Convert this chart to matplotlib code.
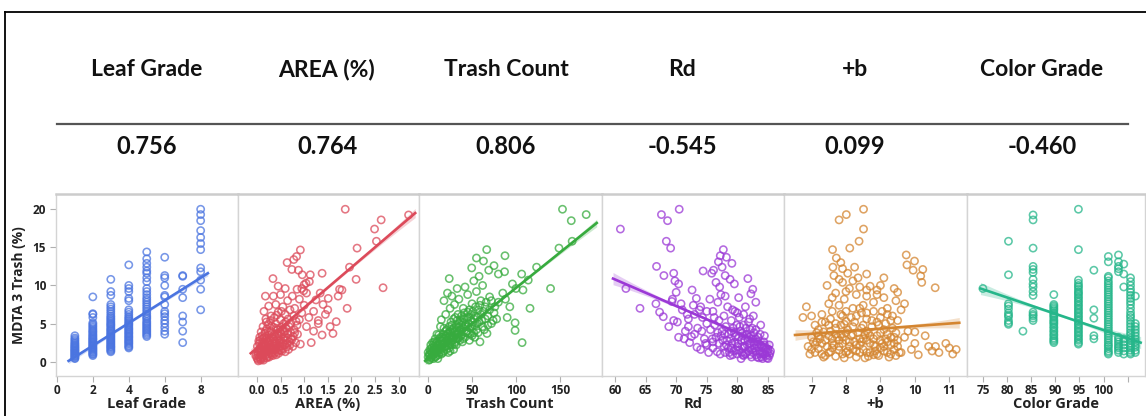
import numpy as np
import matplotlib.pyplot as plt
from matplotlib.lines import Line2D

plt.rcParams['font.family'] = ['Lato', 'DejaVu Sans']
plt.rcParams['font.weight'] = 'bold'

W, H = 1146, 416

# ---------------------------------------------------------------- header table
header_names = ['Leaf Grade', 'AREA (%)', 'Trash Count', 'Rd', '+b', 'Color Grade']
header_corr = ['0.756', '0.764', '0.806', '-0.545', '0.099', '-0.460']

# ---------------------------------------------------------------- panel data
# Leaf Grade (discrete grades 1..8)
leaf_y = {
    1: [0.4, 0.5, 0.65, 0.75, 0.85, 1.0, 1.1, 1.2, 1.35, 1.45, 1.55, 1.7, 1.8, 1.95, 2.05, 2.2,
        2.35, 2.5, 2.7, 2.9, 3.1, 3.4],
    2: [0.8, 0.95, 1.05, 1.2, 1.3, 1.45, 1.55, 1.7, 1.8, 1.95, 2.1, 2.2, 2.35, 2.5, 2.6, 2.75,
        2.9, 3.0, 3.15, 3.3, 3.45, 3.6, 3.8, 3.95, 4.1, 4.3, 4.5, 4.7, 4.9, 5.1, 5.8, 6.2, 6.3,
        8.5],
    3: [1.3, 1.45, 1.6, 1.75, 1.9, 2.0, 2.15, 2.3, 2.45, 2.6, 2.75, 2.9, 3.05, 3.2, 3.35, 3.5,
        3.65, 3.8, 4.0, 4.15, 4.3, 4.5, 4.7, 4.85, 5.0, 5.2, 5.4, 5.6, 5.8, 6.0, 6.3, 6.6, 6.9,
        7.2, 7.5, 8.7, 9.2, 10.8],
    4: [1.8, 1.95, 2.1, 2.3, 2.45, 2.6, 2.75, 2.9, 3.1, 3.25, 3.4, 3.6, 3.75, 3.9, 4.1, 4.25,
        4.4, 4.6, 4.8, 4.95, 5.1, 5.3, 5.5, 5.7, 5.9, 6.2, 6.5, 6.8, 8.0, 8.3, 9.2, 9.6, 10.0,
        12.7],
    5: [3.3, 3.5, 3.7, 3.9, 4.1, 4.3, 4.5, 4.7, 4.9, 5.1, 5.3, 5.6, 5.8, 6.0, 6.3, 6.6, 6.9,
        7.2, 7.5, 7.8, 8.1, 8.4, 8.8, 9.2, 9.6, 10.5, 11.0, 11.6, 11.9, 12.4, 12.9, 13.5, 14.4],
    6: [3.6, 4.0, 4.5, 5.0, 5.4, 5.9, 6.3, 6.6, 7.5, 8.5, 8.7, 10.0, 11.0, 11.3, 13.7],
    7: [2.5, 4.0, 5.2, 6.0, 8.4, 9.5, 11.2, 11.3],
    8: [6.8, 9.5, 10.7, 11.8, 12.3, 14.7, 15.5, 16.3, 17.2, 18.5, 19.3, 20.0],
}
leaf_x = [g for g, ys in leaf_y.items() for _ in ys]
leaf_t = [v for ys in leaf_y.values() for v in ys]

area_pts = [
    (0.02, 0.3), (0.05, 0.6), (0.08, 0.9), (0.03, 1.2), (0.1, 0.5), (0.12, 1.0), (0.15, 1.4),
    (0.06, 1.7), (0.18, 0.8), (0.2, 1.3), (0.22, 1.8), (0.1, 2.1), (0.25, 1.0), (0.28, 1.6),
    (0.3, 2.2), (0.15, 2.5), (0.32, 1.2), (0.35, 2.0), (0.38, 2.7), (0.2, 3.0), (0.4, 1.6),
    (0.42, 2.4), (0.45, 3.1), (0.25, 3.5), (0.48, 2.0), (0.5, 2.8), (0.52, 3.6), (0.3, 4.0),
    (0.55, 2.4), (0.58, 3.2), (0.35, 4.5), (0.6, 4.0), (0.4, 5.0), (0.12, 3.0), (0.05, 2.4),
    (0.08, 0.2), (0.27, 2.8), (0.33, 3.3), (0.44, 4.2), (0.62, 2.8), (0.65, 3.6), (0.18, 4.0),
    (0.02, 0.9), (0.14, 1.9), (0.24, 2.3), (0.36, 1.5), (0.46, 1.1), (0.55, 1.7), (0.7, 2.2),
    (0.68, 4.6), (0.0, 0.5), (0.04, 1.5), (0.07, 2.8), (0.09, 1.1), (0.11, 3.4), (0.13, 0.4),
    (0.16, 2.2), (0.17, 3.7), (0.19, 1.6), (0.21, 4.3), (0.23, 0.7), (0.26, 2.0), (0.27, 3.9),
    (0.29, 1.1), (0.31, 4.7), (0.33, 2.5), (0.34, 0.8), (0.37, 3.6), (0.39, 2.1), (0.41, 4.4),
    (0.43, 1.3), (0.47, 3.4), (0.49, 2.5), (0.51, 4.5), (0.53, 1.4), (0.57, 3.9), (0.59, 2.2),
    (0.61, 5.2), (0.63, 1.9), (0.66, 3.1), (0.69, 2.6), (0.71, 3.9), (0.74, 2.9), (0.77, 3.3),
    (0.82, 2.5), (0.86, 3.6), (0.09, 3.9), (0.13, 4.6), (0.19, 5.6), (0.24, 4.9), (0.29, 5.4),
    (0.37, 5.8), (0.42, 6.1), (0.52, 6.6), (0.57, 5.0), (0.66, 5.6), (0.78, 6.0), (0.83, 5.3),
    (-0.02, 0.8), (0.01, 2.0), (0.06, 3.2),
    (0.03, 0.1), (0.07, 0.4), (0.11, 0.7), (0.14, 0.2), (0.17, 1.1), (0.21, 0.5), (0.23, 1.5),
    (0.26, 0.6), (0.29, 1.9), (0.31, 0.9), (0.34, 1.6), (0.37, 1.1), (0.39, 2.4), (0.41, 0.9),
    (0.44, 1.8), (0.47, 2.7), (0.5, 1.5), (0.53, 2.1), (0.56, 3.0), (0.6, 1.3), (0.64, 2.4),
    (0.67, 1.6), (0.72, 3.0), (0.76, 2.0), (0.79, 4.2), (0.04, 2.7), (0.08, 1.4), (0.12, 2.6),
    (0.16, 3.2), (0.22, 2.6), (0.28, 3.1), (0.36, 3.0), (0.43, 3.7), (0.49, 3.9), (0.54, 4.2),
    (0.62, 4.4), (0.1, 1.6), (0.19, 2.0), (0.32, 1.8), (0.47, 1.5),
    (0.72, 5.0), (0.8, 3.8), (0.85, 4.8), (0.9, 5.5), (0.5, 5.5), (0.6, 6.2),
    (0.7, 6.8), (0.45, 6.5), (0.3, 6.0), (0.2, 5.2), (0.15, 6.6), (0.25, 7.3), (0.4, 7.5),
    (0.55, 7.2), (0.65, 8.0), (0.8, 7.0), (0.95, 6.4), (1.0, 7.4), (1.1, 5.8), (1.2, 6.6),
    (1.3, 5.4), (1.05, 4.6), (1.2, 4.0), (0.75, 8.6), (0.9, 8.2), (0.35, 8.6), (0.18, 8.6),
    (0.5, 8.8), (0.85, 9.5), (1.05, 9.0), (1.25, 8.1), (1.4, 7.5), (1.45, 6.2), (1.34, 9.0),
    (1.51, 8.3), (0.6, 9.6), (0.45, 9.9), (0.34, 10.9), (0.64, 13.0), (0.78, 13.4),
    (0.84, 13.8), (0.92, 14.66), (0.74, 12.1), (0.88, 12.0), (0.96, 11.4), (1.0, 10.1),
    (1.04, 10.3), (1.13, 11.4), (1.38, 11.6), (0.95, 9.6), (0.99, 9.3), (1.11, 10.5),
    (1.68, 5.25), (1.61, 3.7), (1.38, 3.5), (1.15, 2.5), (0.92, 2.3), (1.55, 4.6), (1.75, 9.5),
    (1.8, 9.4), (1.72, 8.6), (1.91, 7.0), (2.10, 10.8), (1.96, 12.4), (2.12, 14.9),
    (2.53, 15.8), (2.49, 17.4), (2.63, 18.6), (1.87, 20.0), (3.21, 19.25), (2.67, 9.7),
    (1.3, 5.0), (1.5, 6.8),
]

trash_pts = [
    (1, 0.2), (3, 0.5), (5, 0.8), (2, 1.0), (8, 0.6), (10, 1.2), (6, 1.5), (12, 0.9), (14, 1.6),
    (4, 1.8), (16, 2.2), (18, 1.4), (9, 2.4), (20, 2.0), (22, 2.8), (13, 3.0), (24, 1.8),
    (26, 2.6), (28, 3.4), (17, 3.6), (30, 2.3), (32, 3.0), (34, 3.8), (21, 4.2), (36, 2.8),
    (38, 3.5), (40, 4.4), (27, 4.8), (42, 3.2), (44, 4.0), (46, 5.0), (33, 5.4), (48, 3.6),
    (50, 4.6), (52, 5.6), (38, 6.0), (55, 4.2), (58, 5.2), (60, 6.2), (45, 6.5), (7, 2.0),
    (11, 0.4), (15, 2.7), (19, 3.1), (25, 4.0), (29, 1.6), (35, 4.6), (41, 5.6), (47, 2.8),
    (53, 3.2), (62, 4.6), (65, 5.6), (0, 0.6), (23, 1.2), (31, 5.8), (57, 6.8),
    (0, 1.2), (2, 0.3), (4, 1.1), (6, 0.4), (7, 2.6), (9, 1.6), (11, 2.2), (12, 3.5), (13, 1.8),
    (15, 1.0), (16, 3.2), (17, 2.4), (18, 4.4), (19, 1.9), (20, 3.4), (21, 2.6), (23, 3.8),
    (24, 4.6), (25, 2.2), (26, 5.2), (27, 3.2), (28, 4.2), (29, 5.6), (30, 3.8), (31, 2.6),
    (32, 4.8), (33, 3.6), (34, 6.2), (35, 3.2), (36, 5.4), (37, 4.2), (39, 5.2), (40, 3.0),
    (41, 6.4), (43, 4.8), (44, 5.8), (46, 3.8), (47, 6.8), (49, 5.4), (50, 3.4), (51, 6.6),
    (53, 4.8), (54, 7.2), (56, 5.8), (57, 3.8), (59, 7.4), (61, 5.4), (63, 6.6), (64, 4.2),
    (66, 7.8), (68, 4.8), (70, 6.8), (72, 8.0), (74, 5.4), (76, 7.2), (5, 2.5), (3, 1.4),
    (8, 3.0), (10, 3.6), (14, 4.6),
    (1, 0.9), (2, 1.6), (3, 2.2), (4, 0.6), (5, 1.3), (6, 2.2), (7, 1.0), (8, 1.8), (9, 0.7),
    (10, 2.6), (11, 1.5), (12, 2.3), (13, 1.2), (14, 3.2), (15, 1.8), (16, 2.8), (17, 1.2),
    (18, 3.0), (19, 2.4), (20, 4.0), (21, 1.6), (22, 3.6), (23, 2.4), (24, 3.2), (25, 1.4),
    (26, 3.8), (27, 2.2), (28, 2.8), (29, 4.4), (30, 3.2), (31, 4.0), (32, 2.2), (33, 4.4),
    (34, 3.0), (35, 5.0), (36, 4.0), (37, 3.4), (38, 4.8), (39, 2.6), (40, 5.8), (42, 4.6),
    (43, 3.8), (45, 4.6), (46, 5.8), (48, 4.4), (49, 6.2), (51, 5.2), (52, 3.8), (54, 6.0),
    (56, 5.0),
    (15, 5.5), (20, 6.2), (25, 7.0), (18, 8.0), (22, 9.0), (27, 8.6), (24, 10.9), (30, 7.5),
    (35, 8.2), (40, 7.0), (45, 8.8), (50, 7.6), (55, 9.2), (60, 8.0), (65, 7.2), (70, 8.5),
    (75, 6.4), (80, 7.8), (85, 9.0), (62, 10.0), (52, 10.6), (42, 9.8), (33, 9.6), (68, 6.0),
    (72, 5.0), (78, 5.6), (90, 5.8), (99, 5.1), (99, 4.1), (107, 2.5), (67, 3.7), (59, 2.6),
    (88, 8.2), (93, 7.2), (49.6, 12.3), (55, 13.6), (63, 13.2), (66.7, 14.7), (75, 12.6),
    (87.5, 13.9), (69, 12.0), (80, 11.5), (87, 11.8), (123.5, 12.4), (106.5, 11.5), (114, 10.7),
    (100, 9.6), (108, 9.4), (139.4, 9.6), (116, 7.0), (149, 14.9), (153, 20.0), (163, 18.5),
    (164, 15.8), (180, 19.3), (96, 10.2), (58, 11.2),
]

rd_pts = [
    (60.9, 17.4), (67.6, 19.3), (68.6, 18.5), (70.5, 20.0), (68.4, 15.8), (69.1, 14.9),
    (66.8, 12.5), (68.0, 11.3), (69.6, 11.6), (69.8, 10.6), (70.4, 10.2), (70.0, 9.1),
    (69.4, 8.2), (69.3, 7.9), (61.8, 9.6), (64.1, 7.0), (66.7, 7.6), (67.3, 6.5), (74.4, 11.9),
    (72.6, 9.4), (73.3, 8.3), (77.7, 14.7), (77.2, 13.9), (78.2, 13.7), (76.9, 13.1),
    (79.1, 12.9), (76.1, 12.0), (75.8, 11.6), (77.5, 12.4), (78.0, 11.3), (78.8, 10.8),
    (76.5, 10.4), (77.1, 9.8), (79.5, 10.2), (81.7, 10.9), (82.5, 9.5), (82.2, 8.9),
    (81.3, 7.2), (83.0, 7.8), (80.2, 8.4), (71, 6.8), (72, 5.6), (73, 6.2), (74, 7.2),
    (75, 5.0), (75.5, 8.2), (76, 6.6), (76.8, 7.8), (77.3, 8.8), (77.8, 6.0), (78.4, 7.2),
    (79, 5.4), (79.6, 6.6), (80.3, 5.8), (81, 6.2), (81.8, 5.2), (82.6, 6.0), (73.5, 4.4),
    (71.5, 4.0), (70.4, 3.2), (72.2, 2.5), (74.6, 3.0), (69.6, 5.4), (68.8, 4.6), (67.9, 5.9),
    (76, 1.8), (76.5, 3.2), (77, 2.4), (77.5, 4.0), (78, 1.2), (78.3, 2.8), (78.6, 3.6),
    (79, 1.8), (79.3, 4.4), (79.6, 2.6), (80, 1.0), (80.2, 3.2), (80.5, 4.0), (80.8, 2.0),
    (81, 0.8), (81.2, 2.8), (81.5, 3.6), (81.8, 1.4), (82, 2.4), (82.3, 0.6), (82.5, 3.0),
    (82.8, 1.8), (83, 0.9), (83.3, 2.6), (83.6, 1.4), (83.9, 0.6), (84.2, 1.8), (84.5, 1.0),
    (84.8, 0.5), (85.2, 0.8), (75, 2.2), (74, 1.6), (73, 3.6), (75.6, 4.2), (77.2, 1.0),
    (79.9, 4.8), (82.1, 4.2), (83.7, 3.6), (80.6, 0.4), (78.8, 0.8),
    (72.5, 3.3), (73.4, 1.9), (74.2, 4.0), (74.8, 2.4), (75.3, 1.2), (75.9, 3.0), (76.3, 4.8),
    (76.7, 1.3), (77.3, 3.4), (77.8, 2.0), (78.1, 4.6), (78.5, 1.8), (78.9, 3.0), (79.2, 0.9),
    (79.5, 3.8), (79.8, 1.5), (80.1, 2.4), (80.4, 4.6), (80.7, 1.2), (80.9, 3.4), (81.1, 1.8),
    (81.4, 4.4), (81.6, 2.2), (81.9, 3.2), (82.1, 0.9), (82.4, 1.6), (82.7, 3.8), (82.9, 2.6),
    (83.1, 1.4), (83.4, 3.2), (83.5, 0.5), (83.8, 2.2), (84.0, 1.2), (84.3, 2.6), (84.6, 1.6),
    (84.9, 1.2), (85.0, 0.4), (85.4, 1.4), (84.1, 0.4), (83.2, 2.0), (82.0, 5.6), (81.0, 4.8),
    (80.0, 6.4), (79.2, 6.8), (78.0, 8.6), (77.0, 5.4), (76.2, 5.8), (75.0, 6.6), (74.3, 5.8),
    (73.8, 6.8), (72.8, 7.4), (71.8, 6.2), (70.8, 7.6), (70.2, 5.2), (71.3, 3.0), (72.0, 4.6),
    (83.8, 4.8), (84.4, 3.4), (85.2, 2.2), (81.3, 1.0),
    (78.2, 2.2), (78.7, 1.2), (79.1, 2.4), (79.4, 1.4), (79.7, 3.3), (80.0, 2.0), (80.3, 1.5),
    (80.6, 2.8), (80.9, 0.9), (81.2, 2.0), (81.5, 1.2), (81.7, 2.9), (82.0, 1.8), (82.2, 3.4),
    (82.5, 1.2), (82.7, 2.2), (83.0, 3.0), (83.2, 0.6), (83.5, 1.9), (83.7, 1.0), (84.0, 2.0),
    (84.2, 1.0), (84.4, 2.2), (84.7, 0.8), (85.0, 1.6), (85.3, 1.1), (79.0, 4.0), (80.8, 3.8),
    (82.4, 4.4), (83.0, 4.2), (77.6, 2.8), (76.8, 3.8), (76.0, 2.6), (77.9, 3.6),
]

b_pts = [
    (8.51, 20.0), (8.01, 19.3), (7.8, 18.6), (8.51, 17.4), (8.38, 15.8), (8.11, 14.9),
    (7.61, 14.7), (9.75, 14.0), (9.99, 13.2), (9.77, 12.7), (10.23, 12.1), (9.95, 12.0),
    (10.17, 11.25), (10.2, 10.4), (10.59, 9.7), (7.72, 13.6), (7.85, 13.0), (7.90, 12.2),
    (7.62, 12.4), (7.65, 11.3), (7.80, 10.8), (7.90, 10.4), (8.2, 10.6), (8.35, 11.0),
    (8.1, 9.6), (8.4, 9.8), (7.95, 8.2), (7.6, 8.4), (7.5, 7.6), (6.85, 7.2), (6.75, 5.8),
    (7.3, 6.2), (8.7, 9.9), (8.9, 9.4), (9.0, 10.0), (8.6, 8.6), (9.1, 8.4), (9.4, 9.6),
    (9.5, 9.1), (9.45, 8.0), (9.7, 7.6), (9.6, 6.8), (8.2, 7.0), (8.5, 7.4), (8.8, 6.6),
    (9.2, 7.0), (7.9, 6.0), (8.3, 6.0), (8.6, 5.6), (9.0, 5.8), (9.3, 5.4), (7.4, 5.2),
    (7.7, 5.0), (8.0, 5.3), (6.9, 2.0), (7.0, 3.2), (7.1, 1.2), (7.2, 4.2), (7.3, 2.4),
    (7.4, 0.8), (7.5, 3.4), (7.6, 1.8), (7.7, 4.4), (7.8, 2.8), (7.9, 1.0), (8.0, 3.8),
    (8.1, 2.0), (8.2, 4.6), (8.3, 0.6), (8.4, 3.0), (8.5, 1.6), (8.6, 4.0), (8.7, 2.4),
    (8.8, 0.9), (8.9, 3.4), (9.0, 1.8), (9.1, 4.2), (9.2, 2.6), (9.3, 1.0), (9.4, 3.2),
    (9.5, 2.0), (7.35, 3.9), (7.65, 2.2), (7.95, 4.9), (8.25, 2.6), (8.55, 3.5), (8.85, 1.4),
    (9.15, 3.0), (9.45, 0.8), (7.15, 2.6), (8.05, 1.4), (8.45, 4.4), (8.95, 4.8), (7.85, 3.6),
    (8.65, 0.7), (9.7, 3.2), (9.9, 1.6), (10.0, 2.4), (10.1, 0.9), (10.3, 3.4), (10.5, 1.4),
    (10.6, 2.0), (10.7, 1.2), (10.9, 2.4), (11.0, 1.8), (11.1, 1.0), (11.2, 1.6), (9.8, 4.0),
    (10.0, 3.9), (10.4, 2.0), (9.6, 1.2),
    (6.95, 1.0), (7.05, 2.6), (7.1, 4.8), (7.2, 1.7), (7.25, 3.0), (7.35, 0.6), (7.45, 2.0),
    (7.5, 4.8), (7.55, 1.3), (7.6, 3.0), (7.7, 0.7), (7.75, 3.2), (7.8, 1.5), (7.85, 4.8),
    (7.9, 2.4), (7.95, 0.5), (8.0, 2.8), (8.05, 4.2), (8.1, 1.0), (8.15, 3.4), (8.2, 1.6),
    (8.25, 5.2), (8.3, 2.2), (8.35, 3.8), (8.4, 1.2), (8.45, 2.6), (8.5, 4.8), (8.55, 0.5),
    (8.6, 2.8), (8.65, 3.8), (8.7, 1.2), (8.75, 4.6), (8.8, 3.0), (8.85, 2.0), (8.9, 5.2),
    (8.95, 0.8), (9.0, 3.8), (9.05, 2.4), (9.1, 1.4), (9.15, 5.0), (9.2, 3.6), (9.25, 0.6),
    (9.3, 2.2), (9.35, 4.4), (9.4, 1.6), (9.45, 3.8), (9.5, 2.8), (9.55, 1.2), (7.0, 6.0),
    (7.3, 5.2), (7.6, 6.6), (8.0, 6.6), (8.4, 7.0), (8.8, 7.8), (9.2, 6.2), (9.5, 5.4),
    (7.8, 7.4), (8.6, 6.4), (7.15, 3.8), (7.55, 4.0),
    (7.0, 1.6), (7.1, 2.2), (7.2, 3.4), (7.3, 1.0), (7.4, 2.8), (7.5, 1.2), (7.6, 2.4),
    (7.7, 3.6), (7.8, 2.0), (7.9, 3.2), (8.0, 1.2), (8.1, 2.6), (8.2, 3.6), (8.3, 1.4),
    (8.4, 2.2), (8.5, 3.0), (8.6, 1.2), (8.7, 3.4), (8.8, 2.2), (8.9, 1.0), (9.0, 2.8),
    (9.1, 2.0), (9.2, 1.2), (9.3, 3.2), (9.4, 2.4), (7.55, 5.6), (7.85, 6.2), (8.15, 5.8),
    (8.45, 6.4), (8.75, 5.4), (9.05, 6.6), (9.35, 6.0), (7.7, 9.0), (8.0, 9.2), (8.3, 8.8),
    (8.6, 9.4), (8.25, 12.4), (8.05, 11.6), (8.6, 11.5), (7.45, 10.0), (8.9, 8.8), (9.1, 11.0),
]

color_y = {
    75.0: [9.6],
    80.3: [15.8, 11.4, 7.6, 7.3, 6.9, 6.4, 6.1, 5.9, 5.4, 5.1, 4.9],
    83.3: [4.0],
    85.4: [19.25, 18.6, 14.9, 12.5, 12.1, 11.7, 10.8, 10.2, 9.8, 9.2, 8.7, 6.5, 6.2, 6.0, 5.7,
           5.4],
    89.7: [8.8, 7.5, 7.3, 7.1, 6.9, 6.7, 6.4, 6.2, 6.0, 5.8, 5.5, 5.3, 5.1, 4.9, 4.6, 4.4, 4.1,
           3.9, 3.6, 3.4, 3.1, 2.9, 2.7, 2.5],
    94.8: [20.0, 14.7, 10.7, 10.3, 10.0, 9.8, 9.5, 9.2, 9.0, 8.8, 8.5, 8.3, 8.0, 7.8, 7.5, 7.3,
           7.0, 6.8, 6.5, 6.3, 6.0, 5.8, 5.5, 5.3, 5.0, 4.8, 4.5, 4.3, 4.0, 3.8, 3.5, 3.3, 3.0,
           2.8, 2.5, 2.3],
    98.0: [12.0, 6.8, 5.7, 3.4, 3.0],
    101.0: [13.8, 13.1, 11.2, 11.0, 10.6, 10.3, 10.0, 9.7, 9.4, 9.1, 8.8, 8.5, 8.2, 7.9, 7.6,
            7.3, 7.0, 6.7, 6.4, 6.1, 5.8, 5.5, 5.2, 4.9, 4.6, 4.3, 4.0, 3.7, 3.4, 3.1, 2.8, 2.5,
            2.2, 2.0, 1.7, 1.4, 1.2, 1.0],
    103.1: [14.0, 13.1, 12.5, 12.2, 11.8, 3.2, 2.9, 2.6, 2.3, 2.0, 1.8, 1.5, 1.2],
    104.2: [12.8, 11.5, 9.8, 3.0, 2.6, 2.2, 1.8, 1.4, 1.0],
    105.6: [11.0, 10.5, 10.0, 9.5, 9.1, 8.7, 8.3, 7.9, 7.5, 7.0, 6.5, 6.1, 5.8, 5.4, 5.0, 4.6,
            4.2, 3.8, 3.5, 3.1, 2.8, 2.4, 2.1, 1.8, 1.5, 1.2, 1.0],
    106.6: [8.6, 5.0, 4.6, 4.2, 3.8, 3.4, 3.0, 2.6, 2.2, 1.9, 1.5, 1.2],
}
color_x = [g for g, ys in color_y.items() for _ in ys]
color_t = [v for ys in color_y.values() for v in ys]

# fitted lines: (x_start, y_start, x_end, y_end)
fit_lines = [
    (0.65, 0.1, 8.4, 11.6),
    (-0.13, 1.1, 3.35, 19.5),
    (-3.4, 0.1, 192, 18.2),
    (59.7, 10.9, 85.5, 1.9),
    (6.52, 3.5, 11.29, 5.1),
    (74.5, 9.6, 107.7, 2.5),
]
# confidence band half width (middle, ends) in % trash units
band_hw = [(0.15, 0.35), (0.15, 0.6), (0.12, 0.5), (0.15, 0.8), (0.15, 0.7), (0.15, 0.8)]

panels = [
    dict(x=leaf_x, y=leaf_t, label='Leaf Grade', color='#4a74e0', xlim=(-0.05, 10.05),
         ticks=[0, 2, 4, 6, 8], ticklabels=['0', '2', '4', '6', '8']),
    dict(x=[p[0] for p in area_pts], y=[p[1] for p in area_pts], label='AREA (%)',
         color='#dc4a5a', xlim=(-0.41, 3.42), ticks=[0, 0.5, 1, 1.5, 2, 2.5, 3],
         ticklabels=['0.0', '0.5', '1.0', '1.5', '2.0', '2.5', '3.0']),
    dict(x=[p[0] for p in trash_pts], y=[p[1] for p in trash_pts], label='Trash Count',
         color='#37ab3e', xlim=(-11, 198), ticks=[0, 50, 100, 150],
         ticklabels=['0', '50', '100', '150']),
    dict(x=[p[0] for p in rd_pts], y=[p[1] for p in rd_pts], label='Rd', color='#9b38d6',
         xlim=(57.9, 87.6), ticks=[60, 65, 70, 75, 80, 85],
         ticklabels=['60', '65', '70', '75', '80', '85']),
    dict(x=[p[0] for p in b_pts], y=[p[1] for p in b_pts], label='+b', color='#d48530',
         xlim=(6.2, 11.5), ticks=[7, 8, 9, 10, 11], ticklabels=['7', '8', '9', '10', '11']),
    dict(x=color_x, y=color_t, label='Color Grade', color='#25b68a', xlim=(71.6, 108.6),
         ticks=[75, 80, 85, 90, 95, 100, 105],
         ticklabels=['75', '80', '85', '90', '95', '100', '']),
]

# ---------------------------------------------------------------- figure
fig = plt.figure(figsize=(W / 100, H / 100), dpi=100)
fig.patch.set_facecolor('white')


def fx(px):
    return px / W


def fy(py):
    return 1 - py / H


# black outer frame (left + top)
fig.add_artist(Line2D([fx(5), fx(5)], [fy(12), 0], color='black', lw=1.3))
fig.add_artist(Line2D([fx(5), 1], [fy(12), fy(12)], color='black', lw=1.3))

head_x = [147, 327, 506, 682, 855, 1042]
for cx, name, val in zip(head_x, header_names, header_corr):
    fig.text(fx(cx), fy(70), name, ha='center', va='center', fontsize=16.5,
             fontweight='bold', color='#111111')
    fig.text(fx(cx), fy(146), val, ha='center', va='center', fontsize=17,
             fontweight='bold', color='#111111')
fig.add_artist(Line2D([fx(57), fx(1128)], [fy(124), fy(124)], color='#555555', lw=1.6))

edges = [56, 237.5, 418.5, 602, 784, 966.5, 1145]
top_px, bot_px = 194, 376
ylim = (-1.88, 22.0)
tick_font = ['Open Sans', 'DejaVu Sans']

for i, p in enumerate(panels):
    ax = fig.add_axes([fx(edges[i]), fy(bot_px), fx(edges[i + 1] - edges[i]),
                       (bot_px - top_px) / H])
    x = np.array(p['x'], dtype=float)
    y = np.array(p['y'], dtype=float)
    ax.scatter(x, y, s=27, facecolors='none', edgecolors=p['color'], linewidths=1.15,
               alpha=0.75, zorder=2)

    x0, y0, x1, y1 = fit_lines[i]
    hw_mid, hw_end = band_hw[i]
    xs = np.linspace(x0, x1, 100)
    ys = y0 + (y1 - y0) * (xs - x0) / (x1 - x0)
    t = (xs - (x0 + x1) / 2) / ((x1 - x0) / 2)
    hw = hw_mid + (hw_end - hw_mid) * t ** 2
    ax.fill_between(xs, ys - hw, ys + hw, color=p['color'], alpha=0.25, lw=0, zorder=3)
    ax.plot(xs, ys, color=p['color'], lw=1.9, zorder=4)

    ax.set_xlim(*p['xlim'])
    ax.set_ylim(*ylim)
    ax.set_xticks(p['ticks'])
    ax.set_xticklabels(p['ticklabels'], family=tick_font, fontweight='bold')
    ax.tick_params(axis='x', direction='out', length=4, width=0.8, color='#b0b0b0',
                   labelsize=8.5, labelcolor='#222222', pad=2)
    ax.set_xlabel(p['label'], fontsize=10.5, fontweight='bold', color='#222222',
                  labelpad=0, family=tick_font)
    for sp in ax.spines.values():
        sp.set_color('#d4d4d4')
        sp.set_linewidth(1.0)
    ax.spines['top'].set_linewidth(1.8)
    ax.spines['top'].set_color('#cccccc')
    if i == 0:
        ax.set_yticks([0, 5, 10, 15, 20])
        ax.set_yticklabels(['0', '5', '10', '15', '20'], family=tick_font, fontweight='bold')
        ax.tick_params(axis='y', direction='out', length=4, width=0.8, color='#b0b0b0',
                       labelsize=8.5, labelcolor='#222222', pad=3)
        ax.set_ylabel('MDTA 3 Trash (%)', fontsize=10, fontweight='bold', color='#222222',
                      labelpad=5, family=tick_font)
    else:
        ax.set_yticks([])

fig.savefig('out.png', dpi=100, facecolor='white')
